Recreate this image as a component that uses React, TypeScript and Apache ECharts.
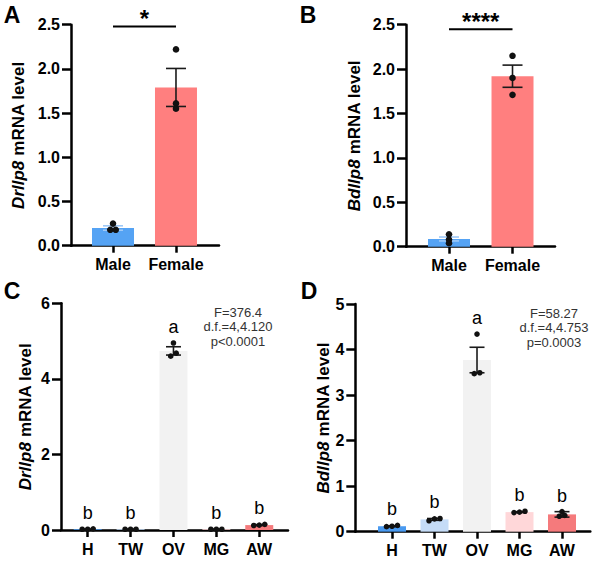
import React, { useEffect, useRef } from "react";
import * as echarts from "echarts";

const FONT = "'Liberation Sans', Arial, Helvetica, sans-serif";

// ---------- Panel A: Drllp8, by sex ----------
const sexCategories = ["Male", "Female"];
const drSexMeans = [0.2, 1.79];
const drSexSem = [0.025, 0.215];
const drSexPoints = [
  [0.25, 0.18, 0.18],
  [2.22, 1.61, 1.55],
];
const drSexStar = "*";
const drSexSigLevel = 2.48;

// ---------- Panel B: Bdllp8, by sex ----------
const bdSexMeans = [0.087, 1.92];
const bdSexSem = [0.022, 0.125];
const bdSexPoints = [
  [0.14, 0.08, 0.04],
  [2.15, 1.9, 1.71],
];
const bdSexStar = "****";
const bdSexSigLevel = 2.45;

// ---------- Panel C: Drllp8, by tissue ----------
const tissueCategories = ["H", "TW", "OV", "MG", "AW"];
const drTissueMeans = [0.02, 0.02, 4.74, 0.02, 0.13];
const drTissueSem = [0.005, 0.004, 0.11, 0.004, 0.012];
const drTissuePoints = [
  [0.03, 0.02, 0.02],
  [0.02, 0.02, 0.02],
  [4.95, 4.68, 4.6],
  [0.02, 0.02, 0.02],
  [0.15, 0.13, 0.12],
];
const drTissueLetters = ["b", "b", "a", "b", "b"];
const drTissueStats = ["F=376.4", "d.f.=4,4.120", "p<0.0001"];

// ---------- Panel D: Bdllp8, by tissue ----------
const bdTissueMeans = [0.12, 0.27, 3.77, 0.43, 0.38];
const bdTissueSem = [0.01, 0.02, 0.28, 0.01, 0.06];
const bdTissuePoints = [
  [0.14, 0.12, 0.11],
  [0.29, 0.28, 0.24],
  [4.34, 3.49, 3.47],
  [0.45, 0.43, 0.42],
  [0.44, 0.36, 0.34],
];
const bdTissueLetters = ["b", "b", "a", "b", "b"];
const bdTissueStats = ["F=58.27", "d.f.=4,4.753", "p=0.0003"];

// ---------- colours ----------
const sexColors = ["#55a3f4", "#ff7f7f"];
const sexErrColors = ["#9fc9f7", "#1a1a1a"];
const tissueColors = ["#4a9af0", "#c5dcf7", "#f2f2f2", "#ffd7d9", "#f57a7c"];
const tissueErrColors = ["#1a1a1a", "#1a1a1a", "#1a1a1a", "#1a1a1a", "#1a1a1a"];

type Spec = {
  cats: string[];
  means: number[];
  sems: number[];
  points: number[][];
  colors: string[];
  errColors: string[];
  gene: string;
  letters?: string[];
  star?: string;
  sigLevel?: number;
  left: number;
  top: number;
  width: number;
  height: number;
  xMin: number;
  xMax: number;
  yMax: number;
  yInterval: number;
  decimals: number;
  nameGap: number;
  barWidth: number;
  capWidth: number;
  dotR: number;
};

function jitter(values: number[], pxPerUnit: number): number[] {
  const idx = values.map((_, i) => i).sort((a, b) => values[a] - values[b]);
  const out = new Array(values.length).fill(0);
  let cluster: number[] = [idx[0]];
  const flush = () => {
    const n = cluster.length;
    cluster.forEach((id, j) => {
      out[id] = (j - (n - 1) / 2) * 5.5;
    });
  };
  for (let k = 1; k < idx.length; k++) {
    const prev = idx[k - 1];
    const cur = idx[k];
    if ((values[cur] - values[prev]) * pxPerUnit < 3.5) cluster.push(cur);
    else {
      flush();
      cluster = [cur];
    }
  }
  flush();
  return out;
}

function buildPanel(i: number, s: Spec) {
  const axisColor = "#000";
  const grid = { left: s.left, top: s.top, width: s.width, height: s.height };
  const catIdx = s.cats.map((_, k) => k);
  const xAxis = {
    type: "value",
    gridIndex: i,
    min: s.xMin,
    max: s.xMax,
    splitLine: { show: false },
    axisLine: { show: true, onZero: false, lineStyle: { color: axisColor, width: 2.5 } },
    axisTick: { show: true, customValues: catIdx, length: 7, lineStyle: { color: axisColor, width: 2.5 } },
    axisLabel: {
      customValues: catIdx,
      formatter: (v: number) => s.cats[Math.round(v)] ?? "",
      fontSize: 16,
      fontWeight: "bold",
      fontFamily: FONT,
      color: "#000",
      margin: 11,
    },
  };
  const yAxis = {
    type: "value",
    gridIndex: i,
    min: 0,
    max: s.yMax,
    interval: s.yInterval,
    splitLine: { show: false },
    axisLine: { show: true, onZero: false, lineStyle: { color: axisColor, width: 2.5 } },
    axisTick: { show: true, length: 9, lineStyle: { color: axisColor, width: 2.5 } },
    axisLabel: {
      formatter: (v: number) => v.toFixed(s.decimals),
      fontSize: 16,
      fontWeight: "bold",
      fontFamily: FONT,
      color: "#000",
      margin: 11,
    },
    name: `{i|${s.gene}} mRNA level`,
    nameLocation: "middle",
    nameGap: s.nameGap,
    nameRotate: 90,
    nameTextStyle: {
      fontSize: 17,
      fontWeight: "bold",
      fontFamily: FONT,
      color: "#000",
      rich: {
        i: { fontSize: 17, fontWeight: "bold", fontStyle: "italic", fontFamily: FONT, color: "#000" },
      },
    },
  };

  const pxPerUnit = s.height / s.yMax;
  const dots: number[][] = [];
  s.points.forEach((vals, k) => {
    const dx = jitter(vals, pxPerUnit);
    vals.forEach((v, j) => dots.push([k, v, dx[j]]));
  });

  const series: any[] = [
    {
      type: "bar",
      xAxisIndex: i,
      yAxisIndex: i,
      barWidth: s.barWidth,
      silent: true,
      z: 1,
      data: s.means.map((m, k) => ({ value: [k, m], itemStyle: { color: s.colors[k] } })),
    },
    {
      type: "custom",
      xAxisIndex: i,
      yAxisIndex: i,
      silent: true,
      z: 3,
      data: s.means.map((m, k) => [k, m, s.sems[k]]),
      renderItem: (params: any, api: any) => {
        const x = api.value(0);
        const m = api.value(1);
        const e = api.value(2);
        const t = api.coord([x, m + e]);
        const b = api.coord([x, Math.max(0, m - e)]);
        const h = s.capWidth / 2;
        const st = { stroke: s.errColors[params.dataIndex], lineWidth: 1.6 };
        return {
          type: "group",
          children: [
            { type: "line", shape: { x1: t[0], y1: t[1], x2: t[0], y2: b[1] }, style: st },
            { type: "line", shape: { x1: t[0] - h, y1: t[1], x2: t[0] + h, y2: t[1] }, style: st },
            { type: "line", shape: { x1: t[0] - h, y1: b[1], x2: t[0] + h, y2: b[1] }, style: st },
          ],
        };
      },
    },
    {
      type: "custom",
      xAxisIndex: i,
      yAxisIndex: i,
      silent: true,
      z: 4,
      data: dots,
      renderItem: (params: any, api: any) => {
        const p = api.coord([api.value(0), api.value(1)]);
        return {
          type: "circle",
          shape: { cx: p[0] + api.value(2), cy: p[1], r: s.dotR },
          style: { fill: "#111" },
        };
      },
    },
  ];

  if (s.letters) {
    const tops = s.means.map((m, k) => Math.max(m + s.sems[k], ...s.points[k]));
    series.push({
      type: "custom",
      xAxisIndex: i,
      yAxisIndex: i,
      silent: true,
      z: 5,
      data: tops.map((t, k) => [k, t]),
      renderItem: (params: any, api: any) => {
        const p = api.coord([api.value(0), api.value(1)]);
        return {
          type: "text",
          x: p[0],
          y: p[1] - 16,
          style: {
            text: s.letters![params.dataIndex],
            fontSize: 18,
            fontFamily: FONT,
            fill: "#000",
            align: "center",
            verticalAlign: "middle",
          },
        };
      },
    });
  }

  if (s.star && s.sigLevel !== undefined) {
    series.push({
      type: "custom",
      xAxisIndex: i,
      yAxisIndex: i,
      silent: true,
      z: 5,
      data: [[0, s.sigLevel, 1]],
      renderItem: (params: any, api: any) => {
        const a = api.coord([api.value(0), api.value(1)]);
        const b = api.coord([api.value(2), api.value(1)]);
        return {
          type: "group",
          children: [
            { type: "line", shape: { x1: a[0], y1: a[1], x2: b[0], y2: b[1] }, style: { stroke: "#000", lineWidth: 2 } },
            {
              type: "text",
              x: (a[0] + b[0]) / 2,
              y: a[1] - 8,
              style: {
                text: s.star,
                fontSize: 24,
                fontWeight: "bold",
                fontFamily: FONT,
                fill: "#000",
                align: "center",
                verticalAlign: "middle",
              },
            },
          ],
        };
      },
    });
  }

  return { grid, xAxis, yAxis, series };
}

function panelLetter(text: string, x: number, y: number) {
  return {
    type: "text",
    x,
    y,
    style: {
      text,
      fontSize: 23,
      fontWeight: "bold",
      fontFamily: FONT,
      fill: "#000",
      align: "center",
      verticalAlign: "middle",
    },
  };
}

function statsBlock(lines: string[], x: number, y: number) {
  return {
    type: "text",
    x,
    y,
    style: {
      text: lines.join("\n"),
      fontSize: 13,
      lineHeight: 14.5,
      fontFamily: FONT,
      fill: "#333",
      align: "center",
      verticalAlign: "top",
    },
  };
}

export default function App() {
  const ref = useRef<HTMLDivElement>(null);

  useEffect(() => {
    document.body.style.margin = "0";
    if (!ref.current) return;
    const chart = echarts.init(ref.current, undefined, { renderer: "svg" });

    const panels = [
      buildPanel(0, {
        cats: sexCategories,
        means: drSexMeans,
        sems: drSexSem,
        points: drSexPoints,
        colors: sexColors,
        errColors: sexErrColors,
        gene: "Drllp8",
        star: drSexStar,
        sigLevel: drSexSigLevel,
        left: 71,
        top: 24.7,
        width: 148,
        height: 221,
        xMin: -0.667,
        xMax: 1.683,
        yMax: 2.5,
        yInterval: 0.5,
        decimals: 1,
        nameGap: 44,
        barWidth: 42,
        capWidth: 20,
        dotR: 3.3,
      }),
      buildPanel(1, {
        cats: sexCategories,
        means: bdSexMeans,
        sems: bdSexSem,
        points: bdSexPoints,
        colors: sexColors,
        errColors: sexErrColors,
        gene: "Bdllp8",
        star: bdSexStar,
        sigLevel: bdSexSigLevel,
        left: 406,
        top: 24.7,
        width: 149,
        height: 222,
        xMin: -0.677,
        xMax: 1.669,
        yMax: 2.5,
        yInterval: 0.5,
        decimals: 1,
        nameGap: 43,
        barWidth: 42,
        capWidth: 20,
        dotR: 3.3,
      }),
      buildPanel(2, {
        cats: tissueCategories,
        means: drTissueMeans,
        sems: drTissueSem,
        points: drTissuePoints,
        colors: tissueColors,
        errColors: tissueErrColors,
        gene: "Drllp8",
        letters: drTissueLetters,
        left: 61,
        top: 303.3,
        width: 227,
        height: 226.7,
        xMin: -0.622,
        xMax: 4.67,
        yMax: 6,
        yInterval: 2,
        decimals: 0,
        nameGap: 27,
        barWidth: 28,
        capWidth: 15,
        dotR: 2.8,
      }),
      buildPanel(3, {
        cats: tissueCategories,
        means: bdTissueMeans,
        sems: bdTissueSem,
        points: bdTissuePoints,
        colors: tissueColors,
        errColors: tissueErrColors,
        gene: "Bdllp8",
        letters: bdTissueLetters,
        left: 355.3,
        top: 304,
        width: 235,
        height: 227.7,
        xMin: -0.864,
        xMax: 4.666,
        yMax: 5,
        yInterval: 1,
        decimals: 0,
        nameGap: 22,
        barWidth: 28,
        capWidth: 15,
        dotR: 2.8,
      }),
    ];

    chart.setOption({
      animation: false,
      backgroundColor: "#fff",
      grid: panels.map((p) => p.grid),
      xAxis: panels.map((p) => p.xAxis),
      yAxis: panels.map((p) => p.yAxis),
      series: panels.flatMap((p) => p.series),
      graphic: [
        panelLetter("A", 12, 15),
        panelLetter("B", 308, 15),
        panelLetter("C", 12, 291),
        panelLetter("D", 309, 291),
        statsBlock(drTissueStats, 238, 305),
        statsBlock(bdTissueStats, 554, 306),
      ],
    });

    return () => chart.dispose();
  }, []);

  return <div ref={ref} style={{ width: 594, height: 562 }} />;
}
